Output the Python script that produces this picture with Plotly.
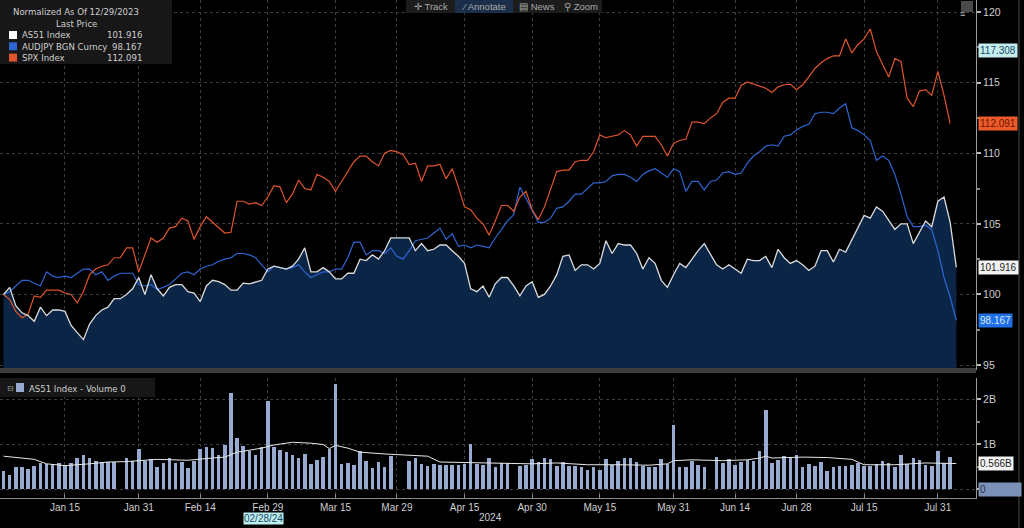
import pandas as pd
import plotly.graph_objects as go

# ---------------- data ----------------
dates = [d.strftime("%Y-%m-%d") for d in pd.bdate_range("2023-12-29", "2024-08-05")
         if d.strftime("%Y-%m-%d") != "2024-01-01"]

as51 = [
    100.0, 100.5, 99.2, 98.7, 98.5, 98.1, 99.1, 98.5, 98.9, 98.9,
    98.8, 97.8, 97.3, 96.8, 97.9, 98.5, 98.9, 99.1, 99.7, 99.7,
    100.0, 100.4, 101.2, 100.0, 101.4, 100.4, 99.9, 100.5, 100.7, 100.7,
    100.2, 100.1, 99.5, 100.6, 101.0, 100.9, 100.7, 100.3, 100.3, 100.8,
    100.75, 100.9, 101.0, 101.8, 102.0, 101.9, 101.8, 102.0, 102.5, 103.3,
    101.6, 101.6, 101.9, 101.6, 101.1, 101.1, 101.5, 101.5, 102.5, 102.4,
    102.8, 102.5, 103.1, 104.0, 104.0, 104.0, 104.0, 103.1, 103.6, 103.1,
    103.2, 103.5, 103.5, 103.1, 102.7, 102.2, 100.4, 100.2, 100.6,
    99.8, 100.75, 101.2, 101.2, 100.6, 99.9, 100.6, 100.9, 99.8, 100.0,
    100.6, 101.4, 102.7, 102.8, 101.7, 102.1, 102.1, 101.8, 102.2, 103.8,
    102.9, 103.6, 103.5, 103.5, 102.9, 101.8, 102.6, 102.2, 101.0, 100.5,
    101.4, 102.2, 101.9, 102.5, 103.1, 103.6, 102.8, 102.1, 101.8,
    102.1, 101.8, 101.5, 102.5, 102.4, 102.4, 102.7, 101.9, 103.2, 102.6,
    102.2, 102.4, 102.1, 101.7, 102.0, 103.1, 103.1, 102.3, 103.2, 103.0,
    103.9, 104.7, 105.6, 105.4, 106.2, 105.9, 105.2, 104.6, 105.0, 105.0,
    103.6, 104.4, 105.2, 104.8, 106.6, 106.9, 105.1, 101.916,
]

audjpy = [
    100.0, 100.2, 100.6, 101.0, 101.0, 100.8, 100.6, 101.6, 101.3, 101.2,
    101.3, 101.2, 101.5, 101.8, 101.8, 101.4, 101.6, 101.0, 101.3, 101.5,
    101.5, 101.5, 100.7, 100.6, 100.7, 100.35, 100.5, 100.7, 101.1, 101.5,
    101.6, 101.4, 101.8, 102.0, 102.1, 102.35, 102.5, 102.6, 102.9, 102.9,
    102.8, 102.6, 102.1, 101.6, 102.0, 101.9, 101.8, 101.9, 102.1, 101.6,
    101.2, 101.4, 101.6, 101.6, 101.8, 101.8, 102.6, 103.7, 103.7, 102.8,
    103.1, 103.1, 102.9, 103.3, 102.7, 102.5, 103.1, 103.8, 103.9, 104.0,
    104.35, 104.7, 103.9, 104.3, 103.4, 103.5, 103.3, 103.5, 103.4,
    103.3, 104.0, 104.6, 105.2, 105.65, 107.6, 106.8, 105.9, 105.1, 105.1,
    105.4, 106.1, 106.2, 106.6, 107.1, 107.1, 107.5, 107.9, 107.9, 108.0,
    108.4, 108.5, 108.5, 108.3, 108.0, 108.5, 108.75, 108.9, 108.6, 108.3,
    108.9, 108.7, 107.3, 108.0, 108.0, 107.4, 108.0, 108.1, 108.6,
    108.7, 108.5, 108.6, 109.3, 109.8, 110.1, 110.5, 110.6, 110.5, 111.2,
    111.3, 111.65, 111.9, 112.05, 112.8, 112.9, 112.9, 112.8, 113.2, 113.5,
    111.8, 111.6, 111.3, 110.9, 109.5, 109.8, 109.5, 108.5, 107.1, 105.5,
    104.8, 104.8, 104.9, 104.6, 103.1, 101.2, 99.8, 98.167,
]

spx = [
    100.0, 99.65, 98.8, 98.35, 98.6, 99.9, 99.8, 100.3, 100.3, 100.3,
    100.1, 100.0, 99.4, 100.2, 101.4, 101.8, 102.0, 102.1, 102.6, 102.6,
    103.3, 103.3, 101.6, 102.8, 104.0, 103.7, 104.0, 104.7, 104.8, 105.4,
    105.2, 103.9, 104.8, 105.5, 105.1, 104.75, 104.35, 104.4, 106.6, 106.6,
    106.4, 106.5, 106.3, 106.9, 107.7, 107.6, 106.5, 107.1, 108.1, 107.5,
    107.4, 108.5, 108.3, 108.0, 107.3, 108.0, 108.7, 109.4, 109.8, 109.8,
    109.4, 109.1, 110.0, 110.2, 110.1, 109.9, 109.2, 109.3, 108.0, 109.1,
    109.1, 109.2, 108.2, 108.9, 107.6, 106.2, 106.0, 105.4, 105.0,
    104.2, 105.2, 106.3, 106.3, 105.9, 106.9, 107.3, 106.0, 105.3, 106.2,
    107.5, 108.7, 108.8, 108.8, 109.4, 109.5, 109.5, 110.1, 111.3, 111.1,
    111.2, 111.3, 111.6, 111.3, 110.5, 111.2, 111.2, 111.2, 110.6, 109.8,
    110.7, 110.9, 111.0, 112.2, 112.2, 112.1, 112.5, 112.8, 113.6,
    113.9, 113.9, 114.8, 115.05, 114.9, 114.8, 114.6, 114.3, 114.7, 114.85,
    114.9, 114.5, 114.85, 115.4, 116.0, 116.4, 116.7, 116.9, 116.9, 118.1,
    117.1, 117.7, 118.1, 118.8, 117.2, 116.3, 115.4, 116.7, 116.5, 113.9,
    113.3, 114.4, 114.5, 114.1, 115.8, 114.1, 112.091,
]

# AS51 volume, billions (None = market holiday)
volume = [
    0.41, 0.32, 0.49, 0.49, 0.45, 0.52, 0.58, 0.56, 0.56, 0.58,
    0.52, 0.58, 0.69, 0.75, 0.69, 0.63, 0.60, 0.60, 0.60, None,
    0.69, 0.63, 0.88, 0.63, 0.67, 0.49, 0.58, 0.69, 0.58, 0.60,
    0.46, 0.63, 0.90, 0.93, 0.91, 0.75, 0.97, 2.13, 1.13, 0.95,
    0.84, 0.75, 0.93, 1.96, 0.93, 0.86, 0.82, 0.75, 0.69, 0.77,
    0.56, 0.65, 0.71, 0.88, 2.34, 0.56, 0.58, 0.54, 0.84, 0.63,
    0.46, 0.60, 0.49, 0.73, None, None, 0.63, 0.69, 0.56, 0.52,
    0.56, 0.54, 0.54, 0.54, 0.54, 0.56, 1.01, 0.56, 0.53,
    0.69, 0.49, 0.58, 0.58, None, 0.52, 0.54, 0.67, 0.60, 0.69,
    0.66, 0.52, 0.60, 0.52, 0.52, 0.49, 0.43, 0.49, 0.43, 0.67,
    0.54, 0.63, 0.69, 0.69, 0.60, 0.52, 0.49, 0.50, 0.67, 0.56,
    1.43, 0.49, 0.49, 0.62, 0.54, 0.49, None, 0.71, 0.57,
    0.67, 0.54, 0.60, 0.65, 0.63, 0.84, 1.75, 0.58, 0.65, 0.73,
    0.71, 0.76, 0.50, 0.56, 0.52, 0.60, 0.41, 0.49, 0.52, 0.52,
    0.54, 0.57, 0.52, 0.52, 0.56, 0.63, 0.57, 0.50, 0.75, 0.56,
    0.69, 0.65, 0.54, 0.52, 0.84, 0.58, 0.71, 0,
]

# volume moving-average line, read at these day indices
ma_idx = [0, 3, 5, 7, 10, 14, 17, 20, 25, 30, 32, 34, 36, 38, 39, 42, 44, 47, 50,
          52, 53, 54, 56, 58, 62, 66, 69, 71, 78, 82, 86, 90, 95, 100, 105, 108,
          109, 112, 116, 117, 121, 123, 124, 125, 130, 134, 138, 140, 145, 150, 155]
ma_vals = [0.73, 0.69, 0.66, 0.56, 0.52, 0.56, 0.60, 0.61, 0.66, 0.64, 0.67, 0.69,
           0.71, 0.82, 0.84, 0.91, 0.98, 1.04, 1.02, 0.99, 0.90, 0.97, 0.91, 0.82,
           0.78, 0.75, 0.73, 0.60, 0.58, 0.58, 0.56, 0.58, 0.54, 0.54, 0.53, 0.56,
           0.63, 0.65, 0.63, 0.63, 0.65, 0.69, 0.73, 0.69, 0.71, 0.70, 0.66, 0.54,
           0.54, 0.58, 0.566]

tick_dates = ["2024-01-15", "2024-01-31", "2024-02-14", "2024-02-29", "2024-03-15",
              "2024-03-29", "2024-04-15", "2024-04-30", "2024-05-15", "2024-05-31",
              "2024-06-14", "2024-06-28", "2024-07-15", "2024-07-31"]
tick_labels = ["Jan 15", "Jan 31", "Feb 14", "Feb 29", "Mar 15", "Mar 29", "Apr 15",
               "Apr 30", "May 15", "May 31", "Jun 14", "Jun 28", "Jul 15", "Jul 31"]

series_names = ["AS51 Index", "AUDJPY BGN Curncy", "SPX Index"]
last_prices = ["101.916", "98.167", "112.091"]

# ---------------- style ----------------
FONT = "Liberation Sans, Arial, sans-serif"
LFONT = "Liberation Sans Narrow, DejaVu Sans Condensed, Liberation Sans, Arial, sans-serif"
TXT = "#cfcfcf"
GRID = "#3d3d3d"
C_AS51 = "#dcdcdc"
C_FILL = "#0b2546"
C_AUD = "#2d66d2"
C_SPX = "#e0552d"
C_VOL = "#98aacf"
LEG = 9.5

W_PLOT, H_PLOT = 976, 498


def px(x):
    return x / W_PLOT


def py(y):
    return 1 - y / H_PLOT


fig = go.Figure()

# AS51 area
fig.add_trace(go.Scatter(x=dates, y=as51, mode="lines", line=dict(width=0, color=C_AS51),
                         fill="tozeroy", fillcolor=C_FILL, hoverinfo="skip",
                         showlegend=False, xaxis="x", yaxis="y"))
fig.add_trace(go.Scatter(x=dates, y=audjpy, mode="lines", line=dict(width=1.2, color=C_AUD),
                         showlegend=False, xaxis="x", yaxis="y"))
fig.add_trace(go.Scatter(x=dates[:len(spx)], y=spx, mode="lines",
                         line=dict(width=1.2, color=C_SPX),
                         showlegend=False, xaxis="x", yaxis="y"))
fig.add_trace(go.Scatter(x=dates, y=as51, mode="lines", line=dict(width=1.3, color=C_AS51),
                         showlegend=False, xaxis="x", yaxis="y"))

# volume
fig.add_trace(go.Bar(x=dates, y=volume, marker=dict(color=C_VOL, line=dict(width=0)),
                     width=0.58, showlegend=False, xaxis="x", yaxis="y2"))
fig.add_trace(go.Scatter(x=[dates[i] for i in ma_idx], y=ma_vals, mode="lines",
                         line=dict(width=1, color="#e8e8e8"),
                         showlegend=False, xaxis="x", yaxis="y2"))

shapes = []
annotations = []

# separator between panels
shapes.append(dict(type="rect", xref="paper", yref="paper", x0=0, x1=1,
                   y0=py(373), y1=py(368), fillcolor="#3c3c3c", line=dict(width=0), layer="above"))
# legend box
shapes.append(dict(type="rect", xref="paper", yref="paper", x0=px(0), x1=px(172),
                   y0=py(64), y1=py(0), fillcolor="#171717", line=dict(width=0), layer="above"))
annotations.append(dict(text="Normalized As Of 12/29/2023", xref="paper", yref="paper",
                        x=px(76), y=py(11), showarrow=False, xanchor="center", yanchor="middle",
                        font=dict(size=LEG, color=TXT, family=LFONT)))
annotations.append(dict(text="Last Price", xref="paper", yref="paper",
                        x=px(76), y=py(23), showarrow=False, xanchor="center", yanchor="middle",
                        font=dict(size=LEG, color=TXT, family=LFONT)))
for k, (nm, lp, col) in enumerate(zip(series_names, last_prices, ["#ffffff", C_AUD, C_SPX])):
    yy = 35 + k * 11.3
    shapes.append(dict(type="rect", xref="paper", yref="paper", x0=px(9), x1=px(17),
                       y0=py(yy + 4), y1=py(yy - 4), fillcolor=col, line=dict(width=0), layer="above"))
    annotations.append(dict(text=nm, xref="paper", yref="paper", x=px(20), y=py(yy),
                            showarrow=False, xanchor="left", yanchor="middle",
                            font=dict(size=LEG, color=TXT, family=LFONT)))
    annotations.append(dict(text=lp, xref="paper", yref="paper", x=px(144), y=py(yy),
                            showarrow=False, xanchor="right", yanchor="middle",
                            font=dict(size=LEG, color=TXT, family=LFONT)))

# toolbar
shapes.append(dict(type="rect", xref="paper", yref="paper", x0=px(406), x1=px(602),
                   y0=py(13), y1=py(0), fillcolor="#1c1c1c", line=dict(width=0), layer="above"))
shapes.append(dict(type="rect", xref="paper", yref="paper", x0=px(455), x1=px(513),
                   y0=py(13), y1=py(0), fillcolor="#1b2f4a", line=dict(width=0), layer="above"))
for label, xc in [("✛ Track", 431), ("⁄ Annotate", 484), ("▤ News", 537), ("⚲ Zoom", 581)]:
    annotations.append(dict(text=label, xref="paper", yref="paper", x=px(xc), y=py(6.5),
                            showarrow=False, xanchor="center", yanchor="middle",
                            font=dict(size=9.5, color="#a8a8a8", family=FONT)))
# small icon top-right
shapes.append(dict(type="rect", xref="paper", yref="paper", x0=px(961), x1=px(973),
                   y0=py(12), y1=py(1), fillcolor="#4a4a4a", line=dict(width=0), layer="above"))
annotations.append(dict(text="≡", xref="paper", yref="paper", x=px(967), y=py(6.5),
                        showarrow=False, font=dict(size=9, color="#bbbbbb", family=FONT)))

# volume legend
shapes.append(dict(type="rect", xref="paper", yref="paper", x0=px(0), x1=px(155),
                   y0=py(397), y1=py(378), fillcolor="#171717", line=dict(width=0), layer="above"))
annotations.append(dict(text="⊟", xref="paper", yref="paper", x=px(10), y=py(388),
                        showarrow=False, xanchor="center", yanchor="middle",
                        font=dict(size=8, color="#999999", family="DejaVu Sans")))
shapes.append(dict(type="rect", xref="paper", yref="paper", x0=px(16), x1=px(24),
                   y0=py(392), y1=py(383), fillcolor=C_VOL, line=dict(width=0), layer="above"))
annotations.append(dict(text="AS51 Index - Volume 0", xref="paper", yref="paper", x=px(27), y=py(388),
                        showarrow=False, xanchor="left", yanchor="middle",
                        font=dict(size=LEG, color=TXT, family=LFONT)))


# right-axis value boxes
def value_box(text, yval, yref, bg, fg, width=None):
    d = dict(text=text, xref="paper", yref=yref, x=1.0, y=yval, xanchor="left", yanchor="middle",
             xshift=2, showarrow=False, bgcolor=bg, borderpad=1,
             font=dict(size=10, color=fg, family=FONT))
    if width:
        d["width"] = width
        d["align"] = "left"
    annotations.append(d)


value_box("117.308", 117.308, "y", "#c4eeee", "#1b4a6a")
value_box("112.091", 112.091, "y", "#ee5a2a", "#6a1400")
value_box("101.916", 101.916, "y", "#f2f2f2", "#222222")
value_box("98.167", 98.167, "y", "#1f6fe6", "#d8e8ff")
value_box("0.566B", 0.566, "y2", "#f2f2f2", "#222222")
value_box("0", 0, "y2", "#7d91b8", "#2a3450", width=40)

# bottom labels
annotations.append(dict(text="2024", xref="paper", yref="paper", x=px(490), y=py(517),
                        showarrow=False, xanchor="center", yanchor="middle",
                        font=dict(size=10, color=TXT, family=FONT)))
annotations.append(dict(text="02/28/24", xref="paper", yref="paper", x=px(263), y=py(518),
                        showarrow=False, xanchor="center", yanchor="middle",
                        bgcolor="#bdeeee", borderpad=0,
                        font=dict(size=10, color="#1b4a6a", family=FONT)))

# right scroll line
shapes.append(dict(type="line", xref="paper", yref="paper", x0=px(1019), x1=px(1019),
                   y0=py(528), y1=py(0), line=dict(color="#4a4a4a", width=1)))

fig.update_layout(
    width=1024, height=528,
    paper_bgcolor="#000000", plot_bgcolor="#000000",
    margin=dict(l=0, r=48, t=0, b=30, autoexpand=False),
    bargap=0, showlegend=False,
    font=dict(family=FONT, color=TXT, size=10),
    xaxis=dict(type="category", range=[-0.57, 158.2], anchor="y2",
               tickmode="array", tickvals=tick_dates, ticktext=tick_labels,
               showgrid=True, gridcolor=GRID, griddash="dot", gridwidth=1,
               ticks="inside", ticklen=4, tickcolor="#8a8a8a",
               showline=True, linecolor="#8a8a8a", linewidth=1,
               tickfont=dict(size=10, color=TXT, family=FONT), automargin=False,
               zeroline=False),
    yaxis=dict(domain=[py(370), 1], side="right", anchor="x", range=[94.65, 120.85],
               tickmode="array", tickvals=[95, 100, 105, 110, 115, 120],
               showgrid=True, gridcolor=GRID, griddash="dot",
               ticks="outside", ticklen=4, tickwidth=2, tickcolor="#bbbbbb",
               minor=dict(tickmode="array", tickvals=[97.5, 102.5, 107.5, 112.5, 117.5],
                          ticks="outside", ticklen=3, tickcolor="#888888", showgrid=False),
               showline=True, linecolor="#9a9a9a", linewidth=1, zeroline=False,
               tickfont=dict(size=10.5, color=TXT, family=FONT), automargin=False),
    yaxis2=dict(domain=[0, py(378)], side="right", anchor="x", range=[-0.2, 2.47],
                tickmode="array", tickvals=[0, 1, 2], ticktext=["", "1B", "2B"],
                showgrid=True, gridcolor=GRID, griddash="dot",
                ticks="outside", ticklen=4, tickwidth=2, tickcolor="#bbbbbb",
                minor=dict(tickmode="array", tickvals=[0.5, 1.5], ticks="outside",
                           ticklen=3, tickcolor="#888888", showgrid=False),
                showline=True, linecolor="#9a9a9a", linewidth=1, zeroline=False,
                tickfont=dict(size=10.5, color=TXT, family=FONT), automargin=False),
    shapes=shapes,
    annotations=annotations,
)

fig.write_html("out.html")
